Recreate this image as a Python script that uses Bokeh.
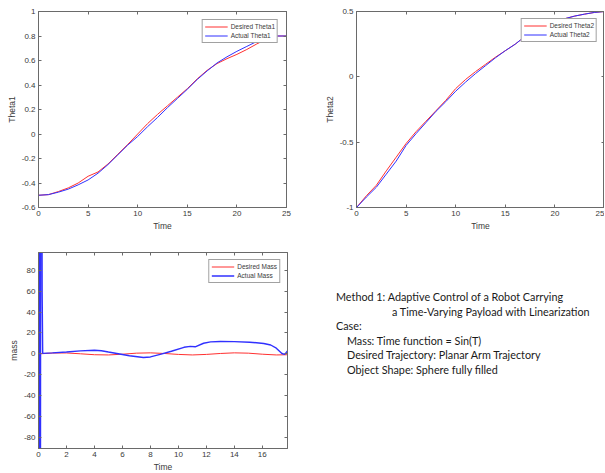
from bokeh.plotting import figure
from bokeh.layouts import column, row
from bokeh.models import Legend, LegendItem, LinearAxis, FixedTicker, Range1d, Div
from bokeh.embed import file_html
from bokeh.resources import INLINE

# ---- joint 1 trajectory (rad) ----
time_t1 = [0, 1, 2, 3, 4, 5, 6, 7, 8, 9, 10, 11, 12, 13, 14, 15, 16, 17, 18, 19, 20, 21, 22, 23, 24, 25]
theta1_desired = [-0.50, -0.495, -0.47, -0.44, -0.40, -0.345, -0.31, -0.245, -0.165, -0.085, 0.0, 0.085,
                  0.16, 0.23, 0.30, 0.37, 0.45, 0.52, 0.575, 0.615, 0.65, 0.69, 0.735, 0.775, 0.80, 0.80]
theta1_actual = [-0.50, -0.495, -0.475, -0.45, -0.415, -0.375, -0.32, -0.25, -0.17, -0.09, -0.02, 0.06,
                 0.135, 0.215, 0.29, 0.365, 0.445, 0.515, 0.58, 0.63, 0.675, 0.715, 0.755, 0.785, 0.80, 0.80]

# ---- joint 2 trajectory (rad) ----
time_t2 = [0, 1, 2, 3, 4, 5, 6, 7, 8, 9, 10, 11, 12, 13, 14, 15, 16, 17, 18, 19, 20, 21, 22, 23, 24, 25]
theta2_desired = [-1.0, -0.91, -0.83, -0.72, -0.615, -0.51, -0.42, -0.34, -0.26, -0.18, -0.09, -0.02,
                  0.04, 0.095, 0.15, 0.20, 0.25, 0.31, 0.35, 0.39, 0.42, 0.445, 0.465, 0.48, 0.493, 0.50]
theta2_actual = [-1.0, -0.92, -0.845, -0.745, -0.645, -0.525, -0.435, -0.35, -0.265, -0.19, -0.11, -0.04,
                 0.025, 0.085, 0.145, 0.20, 0.25, 0.31, 0.35, 0.39, 0.42, 0.445, 0.465, 0.48, 0.493, 0.50]

# ---- payload mass ----
time_mass_desired = [0, 1, 2, 3, 4, 5, 6, 7, 8, 9, 10, 11, 12, 13, 14, 15, 16, 17, 17.8]
mass_desired = [0, 0.8, 0.9, 0.1, -0.8, -1.0, -0.3, 0.7, 1.0, 0.4, -0.5, -1.0, -0.5, 0.4, 1.0, 0.7, -0.3, -1.0, -0.8]

time_mass_actual = [0, 0.06, 0.08, 0.10, 0.12, 0.14, 0.16, 0.18, 0.20, 0.22, 0.24, 0.26, 0.3, 1, 2, 3, 4,
                    4.5, 5, 5.6, 6.5, 7.5, 8, 8.7, 9.5, 10.4, 10.85, 11.2, 11.8, 12.3, 13, 14, 15.1, 16.1,
                    16.6, 17, 17.4, 17.6, 17.8]
mass_actual = [0, -400, 350, -300, 300, -150, 280, 120, 250, 150, 220, 60, 0.5, 1.0, 1.8, 2.9, 3.5,
               3.0, 1.8, 0.4, -1.8, -3.4, -2.9, -0.5, 2.5, 6.3, 7.2, 6.8, 10.2, 11.5, 11.8, 11.7, 11.2,
               10.0, 8.5, 5.5, 0.4, -0.5, 2.9]

# ---- tick positions ----
ticks_x_theta = [0, 5, 10, 15, 20, 25]
ticks_y_theta1 = [-0.6, -0.4, -0.2, 0, 0.2, 0.4, 0.6, 0.8, 1]
ticks_y_theta2 = [-1, -0.5, 0, 0.5]
ticks_x_mass = [0, 2, 4, 6, 8, 10, 12, 14, 16]
ticks_y_mass = [-80, -60, -40, -20, 0, 20, 40, 60, 80]

RED = "#ff3030"
BLUE = "#3030ff"
AXIS_COLOR = "#6a6a6a"
LABEL_COLOR = "#3a3a3a"
FONT = "Liberation Sans"


def style_axis(ax, ticks, show_labels=True):
    ax.ticker = FixedTicker(ticks=ticks)
    ax.axis_line_color = AXIS_COLOR
    ax.major_tick_line_color = AXIS_COLOR
    ax.major_tick_in = 3
    ax.major_tick_out = 0
    ax.minor_tick_line_color = None
    ax.major_label_text_font = FONT
    ax.major_label_text_color = LABEL_COLOR
    if show_labels:
        ax.major_label_overrides = {t: f"{t:g}" for t in ticks}
        ax.major_label_text_font_size = "8px"
        ax.major_label_standoff = 3
        ax.axis_label_text_font = FONT
        ax.axis_label_text_font_size = "8.5px"
        ax.axis_label_text_font_style = "normal"
        ax.axis_label_text_color = LABEL_COLOR
        ax.axis_label_standoff = 2
    else:
        ax.major_label_overrides = {t: "" for t in ticks}
        ax.major_label_text_font_size = "0px"
        ax.major_label_standoff = 0


def make_panel(xr, yr, xticks, yticks, ylabel, left, top, right, bottom, fw, fh):
    p = figure(frame_width=fw, frame_height=fh, x_range=Range1d(*xr), y_range=Range1d(*yr),
               min_border_left=left, min_border_top=top, min_border_right=right,
               min_border_bottom=bottom, output_backend="svg", toolbar_location=None,
               background_fill_color="white", border_fill_color="white")
    p.grid.visible = False
    p.outline_line_color = AXIS_COLOR
    style_axis(p.xaxis[0], xticks)
    style_axis(p.yaxis[0], yticks)
    p.xaxis[0].axis_label = "Time"
    p.yaxis[0].axis_label = ylabel
    top_ax = LinearAxis()
    right_ax = LinearAxis()
    style_axis(top_ax, xticks, show_labels=False)
    style_axis(right_ax, yticks, show_labels=False)
    p.add_layout(top_ax, "above")
    p.add_layout(right_ax, "right")
    return p


def add_legend(p, r1, r2, names, margin):
    legend = Legend(items=[LegendItem(label=names[0], renderers=[r1]),
                           LegendItem(label=names[1], renderers=[r2])],
                    location="top_right", margin=margin, padding=2, spacing=0,
                    glyph_width=23, glyph_height=9, label_height=9, label_standoff=3,
                    label_text_font=FONT, label_text_font_size="6.5px",
                    label_text_color=LABEL_COLOR, border_line_color="#444444",
                    background_fill_color="white", background_fill_alpha=1.0)
    p.add_layout(legend, "center")


# Theta1 panel
p1 = make_panel((0, 25), (-0.6, 1), ticks_x_theta, ticks_y_theta1, "Theta1", 38, 11, 32, 33, 248, 196)
r1a = p1.line(time_t1, theta1_desired, line_color=RED, line_width=1)
r1b = p1.line(time_t1, theta1_actual, line_color=BLUE, line_width=1)
add_legend(p1, r1a, r1b, ["Desired Theta1", "Actual Theta1"], 8)

# Theta2 panel
p2 = make_panel((0, 25), (-1, 0.5), ticks_x_theta, ticks_y_theta2, "Theta2", 38, 11, 0, 33, 248, 196)
r2a = p2.line(time_t2, theta2_desired, line_color=RED, line_width=1)
r2b = p2.line(time_t2, theta2_actual, line_color=BLUE, line_width=1)
add_legend(p2, r2a, r2b, ["Desired Theta2", "Actual Theta2"], 7)

# Mass panel
p3 = make_panel((0, 17.8), (-90.5, 97), ticks_x_mass, ticks_y_mass, "mass", 38, 12, 31, 25, 249, 196)
r3a = p3.line(time_mass_desired, mass_desired, line_color=RED, line_width=1)
r3b = p3.line(time_mass_actual, mass_actual, line_color=BLUE, line_width=1.4)
add_legend(p3, r3a, r3b, ["Desired Mass", "Actual Mass"], 7)

# Case description
note_lines = [
    (18, "Method 1: Adaptive Control of a Robot Carrying"),
    (74, "a Time-Varying Payload with Linearization"),
    (18, "Case:"),
    (29, "Mass: Time function = Sin(T)"),
    (29, "Desired Trajectory: Planar Arm Trajectory"),
    (29, "Object Shape: Sphere fully filled"),
]
html = "".join(
    f'<div style="margin-left:{pad}px;white-space:nowrap;transform:scaleX(0.9);'
    f'transform-origin:0 0;">{txt}</div>' for pad, txt in note_lines
)
note = Div(
    text=f'<div style="font-family:Lato, sans-serif;font-size:12px;line-height:14.6px;'
         f'color:#1a1a1a;padding-top:50px;width:287px;overflow:hidden;">{html}</div>',
    width=287, height=233, margin=0,
)

layout = column(row(p1, p2, spacing=0), row(p3, note, spacing=0), spacing=0)

with open("out.html", "w") as f:
    f.write(file_html(layout, INLINE))
